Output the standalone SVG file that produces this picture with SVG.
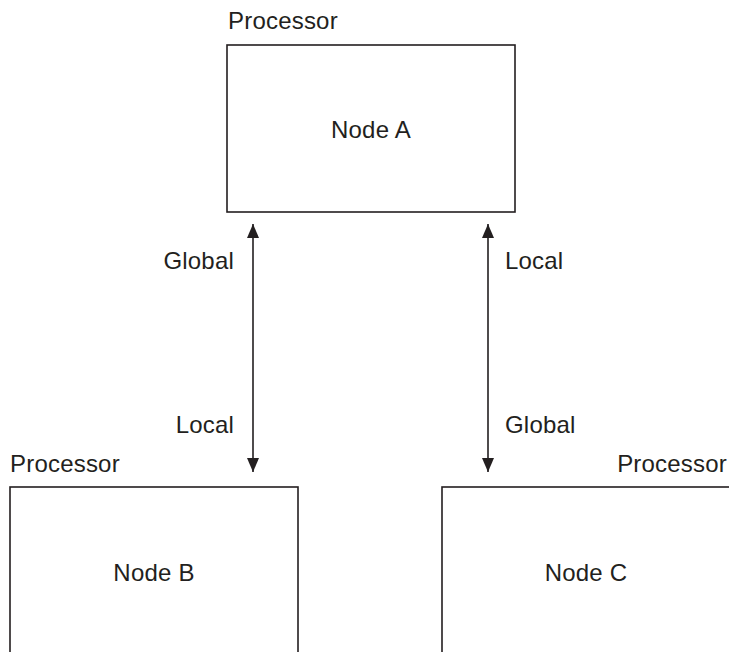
<svg xmlns="http://www.w3.org/2000/svg" width="729" height="652" viewBox="0 0 729 652">
<defs>
<style>
text{font-family:"Liberation Sans",Arial,sans-serif;font-size:24px;letter-spacing:0.2px;fill:#231f20}
.box{fill:#fff;stroke:#231f20;stroke-width:1.6}
.conn{stroke:#231f20;stroke-width:1.6;fill:none}
</style>
<marker id="ah" viewBox="0 0 14 12" markerWidth="14" markerHeight="12" refX="14" refY="6" orient="auto-start-reverse" markerUnits="userSpaceOnUse">
<path d="M0,0 L14,6 L0,12 Z" fill="#231f20"/>
</marker>
</defs>
<rect width="729" height="652" fill="#fff"/>
<g id="nodeA">
<text x="228" y="29">Processor</text>
<rect class="box" x="227" y="45" width="288" height="167"/>
<text x="371" y="138" text-anchor="middle">Node A</text>
</g>
<g id="nodeB">
<text x="10" y="472">Processor</text>
<rect class="box" x="10" y="487" width="288" height="180"/>
<text x="154" y="581" text-anchor="middle">Node B</text>
</g>
<g id="nodeC">
<text x="727" y="472" text-anchor="end">Processor</text>
<rect class="box" x="442" y="487" width="300" height="180"/>
<text x="586" y="581" text-anchor="middle">Node C</text>
</g>
<g id="connectors">
<line class="conn" x1="253" y1="224" x2="253" y2="472" marker-start="url(#ah)" marker-end="url(#ah)"/>
<line class="conn" x1="488" y1="224" x2="488" y2="472" marker-start="url(#ah)" marker-end="url(#ah)"/>
<text x="234" y="269" text-anchor="end">Global</text>
<text x="234" y="433" text-anchor="end">Local</text>
<text x="505" y="269">Local</text>
<text x="505" y="433">Global</text>
</g>
</svg>
